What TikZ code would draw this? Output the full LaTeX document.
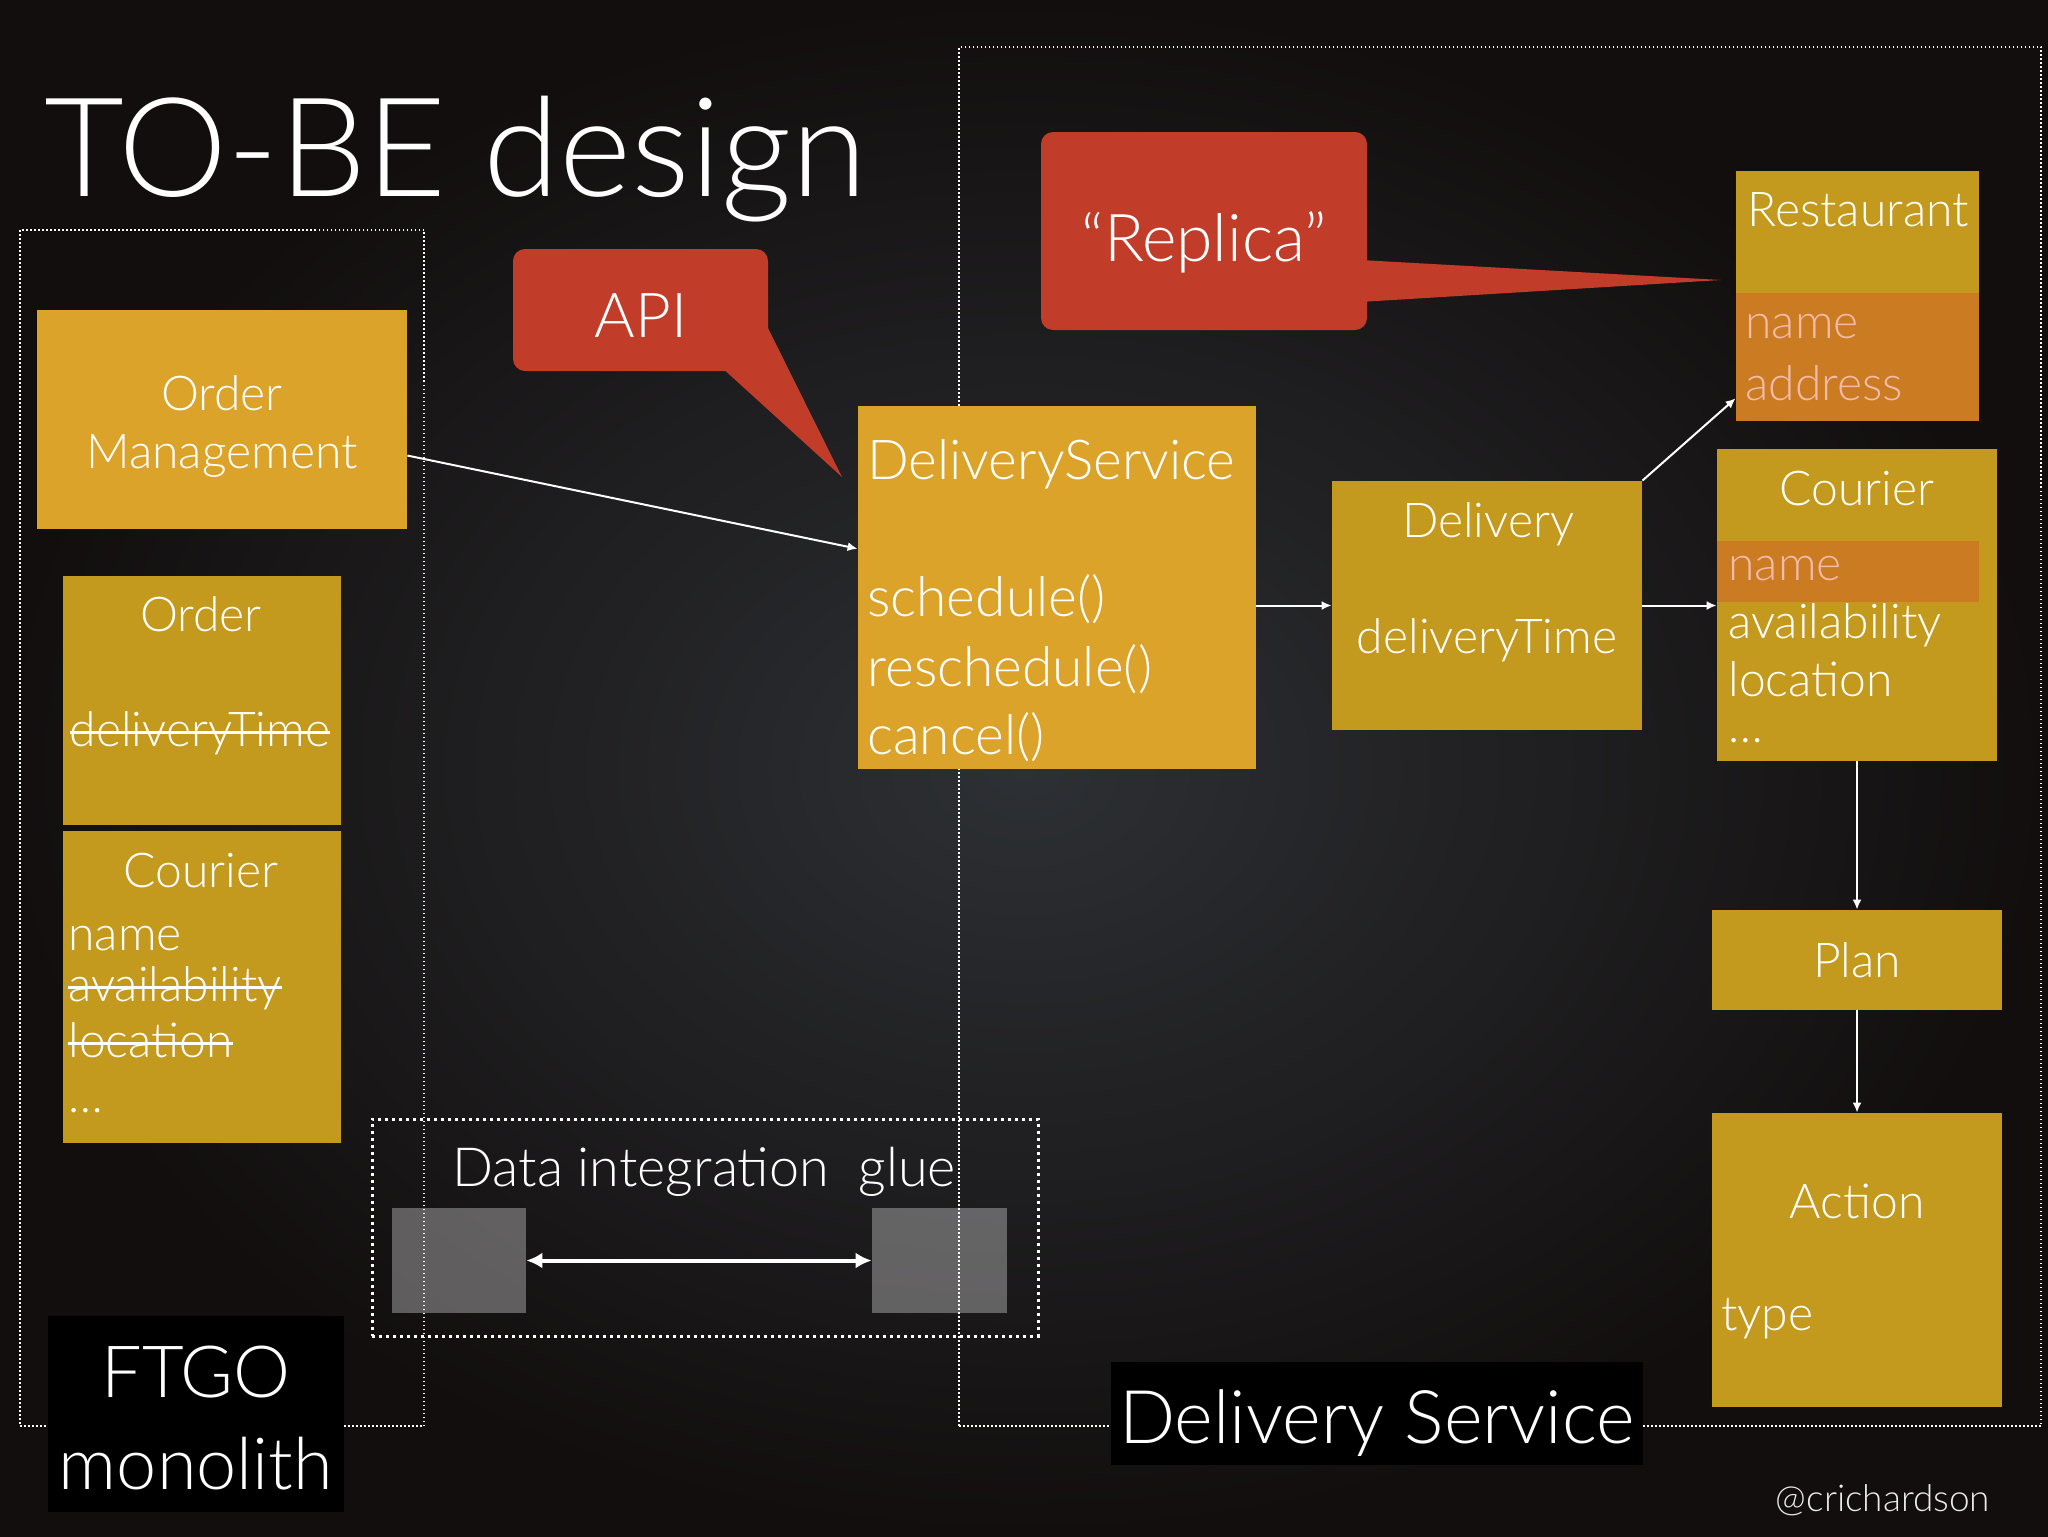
\documentclass[tikz,border=0pt]{standalone}
\usepackage{fontspec}
\IfFontExistsTF{Lato Light}{\setmainfont{Lato Light}}{\setmainfont{Liberation Sans}}
\usetikzlibrary{arrows.meta,fit,positioning}
\newcommand\strikeword[1]{\leavevmode\setbox0\hbox{#1}\rlap{\copy0}\rule[0.26em]{\wd0}{1.1pt}}
\definecolor{bgin}{HTML}{2D3034}
\definecolor{bgout}{HTML}{120E0E}
\definecolor{brightgold}{HTML}{DBA329}
\definecolor{darkgold}{HTML}{C49A1E}
\definecolor{orangeband}{HTML}{CB7B22}
\definecolor{bubblered}{HTML}{C23C2A}
\definecolor{pinktext}{HTML}{F3BBA8}
\tikzset{
  bound/.style={draw=white, line width=0.75pt, dash pattern=on 0.75pt off 1.25pt, inner sep=0pt},
  gluebound/.style={draw=white, line width=1.5pt, dash pattern=on 1.5pt off 2pt, inner sep=0pt},
  svcbox/.style={fill=brightgold, inner sep=0pt},
  clsbox/.style={fill=darkgold, inner sep=0pt},
  band/.style={fill=orangeband, inner sep=0pt},
  ghost/.style={fill=white, fill opacity=0.32, inner sep=0pt},
  blacktag/.style={fill=black, inner sep=0pt},
  redbubble/.style={fill=bubblered, rounded corners=6pt, inner sep=0pt},
  lbl/.style={text=white, inner sep=0pt, font=\fontsize{24pt}{29pt}\selectfont},
  headtxt/.style={lbl, anchor=base},
  attr/.style={lbl, anchor=base west},
  pattr/.style={attr, text=pinktext},
  link/.style={draw=white, line width=1pt, -{Latex[length=5pt,width=4.5pt]}},
  gluelink/.style={draw=white, line width=2pt, {Latex[length=8pt,width=8pt]}-{Latex[length=8pt,width=8pt]}},
}
\begin{document}
\begin{tikzpicture}[x=0.5pt,y=-0.5pt]
\useasboundingbox (0,0) rectangle (2048,1536);
\shade[inner color=bgin, outer color=bgout] (0,0) rectangle (2048,1536);
% frames
\node[bound, fit={(20,230)(424,1426)}] (mono) {};
\node[bound, fit={(959,47)(2041,1426)}] (svc) {};
\node[text=white, inner sep=0pt, anchor=base west, font=\fontsize{69pt}{72pt}\selectfont] (title) at (44,196) {TO-BE design};
% monolith side
\node[svcbox, fit={(37,310)(407,529)}] (om) {};
\node[lbl, align=center] (omT) at (222,426) {Order\\Management};
\node[clsbox, fit={(63,576)(341,825)}] (ord) {};
\node[headtxt] (ordT) at (201,631) {Order};
\node[headtxt] (ordA) at (200,746) {\strikeword{deliveryTime}};
\node[clsbox, fit={(63,831)(341,1143)}] (lcr) {};
\node[headtxt] (lcrT) at (201,887) {Courier};
\node[attr] (lcrN) at (68,950) {name};
\node[attr] (lcrA) at (68,1001) {\strikeword{availability}};
\node[attr] (lcrL) at (68,1057) {\strikeword{location}};
\node[attr] (lcrD) at (68,1112) {\ldots};
\node[blacktag, fit={(48,1316)(344,1512)}] (ftgo) {};
\node[text=white, inner sep=0pt, anchor=base, font=\fontsize{36pt}{44pt}\selectfont] (ftgoA) at (196,1397) {FTGO};
\node[text=white, inner sep=0pt, anchor=base, font=\fontsize{36pt}{44pt}\selectfont] (ftgoB) at (196,1489) {monolith};
% callouts
\node[redbubble, fit={(513,249)(768,371)}] (api) {};
\fill[bubblered] (720,366) -- (842,477) -- (764,320) -- cycle;
\node[text=white, inner sep=0pt, anchor=base, font=\fontsize{31pt}{36pt}\selectfont] (apiT) at (641,337) {API};
\node[redbubble, fit={(1041,132)(1367,330)}] (rep) {};
\fill[bubblered] (1360,260) -- (1721,280) -- (1360,302) -- cycle;
\node[text=white, inner sep=0pt, anchor=base, font=\fontsize{33pt}{38pt}\selectfont] (repT) at (1204,261) {“Replica”};
% delivery service side
\node[svcbox, fit={(858,406)(1256,769)}] (ds) {};
\node[attr, font=\fontsize{27.5pt}{32pt}\selectfont] (dsT) at (867,479) {DeliveryService};
\foreach \m/\y [count=\i] in {schedule()/616, reschedule()/686, cancel()/754}
  \node[attr, font=\fontsize{27.5pt}{32pt}\selectfont] (dsm\i) at (867,\y) {\m};
\node[clsbox, fit={(1332,481)(1642,730)}] (dl) {};
\node[headtxt] (dlT) at (1488,537) {Delivery};
\node[headtxt] (dlA) at (1487,653) {deliveryTime};
\node[clsbox, fit={(1736,171)(1979,421)}] (rst) {};
\node[band, fit={(1736,293)(1979,421)}] (rstB) {};
\node[headtxt] (rstT) at (1858,226) {Restaurant};
\node[pattr] (rstN) at (1745,338) {name};
\node[pattr] (rstA) at (1745,400) {address};
\node[clsbox, fit={(1717,449)(1997,761)}] (crr) {};
\node[band, fit={(1717,541)(1979,602)}] (crrB) {};
\node[headtxt] (crrT) at (1857,505) {Courier};
\node[pattr] (crrN) at (1728,580) {name};
\node[attr] (crrA) at (1728,638) {availability};
\node[attr] (crrL) at (1728,696) {location};
\node[attr] (crrD) at (1728,742) {\ldots};
\node[clsbox, fit={(1712,910)(2002,1010)}] (pln) {};
\node[lbl] (plnT) at (pln.center) {Plan};
\node[clsbox, fit={(1712,1113)(2002,1407)}] (act) {};
\node[headtxt] (actT) at (1857,1218) {Action};
\node[attr] (actA) at (1721,1330) {type};
\node[blacktag, fit={(1111,1362)(1643,1465)}] (dstag) {};
\node[text=white, inner sep=0pt, anchor=base, font=\fontsize{37pt}{44pt}\selectfont] (dstagT) at (1377,1443) {Delivery Service};
% data integration glue
\node[gluebound, fit={(372,1119)(1038,1336)}] (glue) {};
\node[text=white, inner sep=0pt, anchor=base, font=\fontsize{27pt}{32pt}\selectfont] (glueT) at (704,1186) {Data integration~~glue};
\node[ghost, fit={(392,1208)(526,1313)}] (gl1) {};
\node[ghost, fit={(872,1208)(1007,1313)}] (gl2) {};
\draw[gluelink] (gl1) -- (gl2);
% links
\draw[link] (om.-11) -- (ds.169);
\draw[link] (ds.east |- dl.west) -- (dl.west);
\draw[link] (dl.north east) -- (rst.220);
\draw[link] (dl.east) -- (crr.west |- dl.east);
\draw[link] (crr) -- (pln);
\draw[link] (pln) -- (act);
\node[text=white!85!gray, inner sep=0pt, anchor=base, font=\fontsize{18.5pt}{22pt}\selectfont] (handle) at (1883,1511) {@crichardson};
\end{tikzpicture}
\end{document}
